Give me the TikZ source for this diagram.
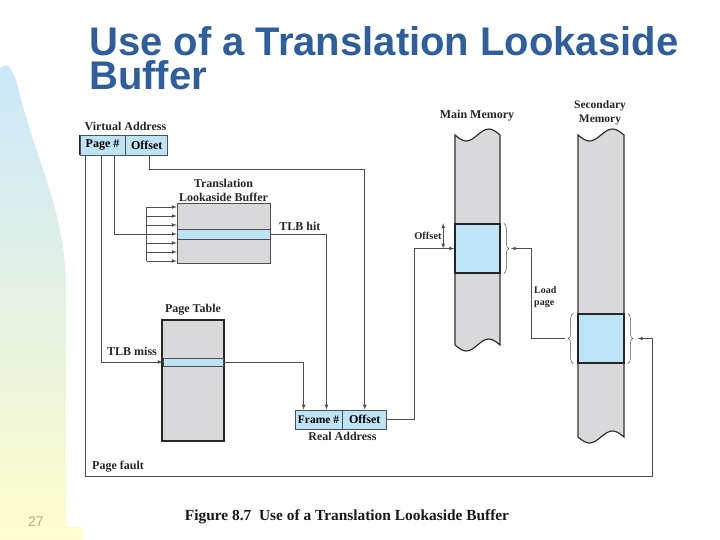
\documentclass[tikz,border=0pt]{standalone}
\usepackage{fontspec}
\setmainfont{Liberation Serif}
\newfontfamily\titlefont{Liberation Sans}
\usetikzlibrary{arrows, shapes, positioning, calc, decorations.pathreplacing}

\definecolor{cellblue}{HTML}{BEE3F6}
\definecolor{memgray}{HTML}{D9D9DB}
\definecolor{linegray}{HTML}{4E4E4E}
\definecolor{titleblue}{HTML}{2E5F9C}
\definecolor{bgblue}{HTML}{C9E7FA}
\definecolor{bgyellow}{HTML}{FFFDCB}
\definecolor{numgray}{HTML}{B3AE7C}

\begin{document}
\begin{tikzpicture}[x=1pt, y=-1pt,
    >=latex,   % Pfeilspitzen
    font=\bfseries\fontsize{12}{14}\selectfont,
    titletext/.style={inner sep=0pt, text=titleblue, align=left, font=\titlefont\bfseries\fontsize{40}{34}\selectfont},
    field/.style={draw=linegray, fill=cellblue, line width=0.8pt, inner sep=0pt, minimum height=20pt},
    tablebox/.style={draw=#1, fill=memgray, inner sep=0pt},
    entry/.style={fill=cellblue, draw=linegray, line width=0.5pt, inner sep=0pt},
    pageframe/.style={draw=black!85, fill=cellblue, line width=1.6pt, inner sep=0pt, minimum width=45pt, minimum height=49pt},
    wire/.style={draw=linegray, line width=0.7pt},
    curly/.style={draw=linegray, line width=0.5pt, decorate, decoration={brace, amplitude=5pt}},
    txt/.style={inner sep=1pt, text=black!85}]
  \useasboundingbox (0,0) rectangle (720,540);
  % Hintergrund links
  \shade[top color=bgblue, bottom color=bgyellow] (0,68) .. controls (8,60) and (14,70) .. (20,95)
    .. controls (33,150) and (64,210) .. (66,280) -- (66,527) -- (82,527) -- (82,540) -- (0,540) -- cycle;
  \node[font=\titlefont\fontsize{14}{14}\selectfont, text=numgray] (pageno) at (36,522) {27};
  % Titel
  \node[titletext, anchor=north west] (title) at (89,26) {Use of a Translation Lookaside\\Buffer};

  % Speicher-Saeulen
  \foreach \cx/\cw/\cb in {455/45/345, 578/46/437}
    \draw[fill=memgray, draw=black!80, line width=1.2pt] (\cx,135) -- (\cx,\cb)
      sin ++(\cw/4,6) cos ++(\cw/4,-6) sin ++(\cw/4,-6) cos ++(\cw/4,6) -- (\cx+\cw,135)
      sin ++(-\cw/4,-6) cos ++(-\cw/4,6) sin ++(-\cw/4,6) cos ++(-\cw/4,-6) -- cycle;
  \node[txt] (mainname) at (477,116) {Main Memory};
  \node[txt, align=center, font=\bfseries\fontsize{11.5}{14}\selectfont] (secname) at (600,113) {Secondary\\Memory};
  \node[pageframe] (mframe) at (477.5,248.5) {};
  \node[pageframe, minimum width=46pt] (spage) at (601,338.5) {};

  % virtuelle Adresse
  \node[field, minimum width=45pt] (vpage) at (102.5,145) {Page \#};
  \node[field, minimum width=42pt, anchor=west] (voffset) at (vpage.east) {Offset};
  \draw[black!85, line width=1.6pt] (vpage.north west) -- (vpage.south west);
  \node[txt, above=3pt of vpage.north east] (vname) {Virtual Address};

  % TLB
  \node[tablebox=linegray, line width=0.8pt, minimum width=93pt, minimum height=60pt] (tlb) at (223.5,233) {};
  \node[entry, minimum width=93pt, minimum height=10pt] (tlbrow) at (223.5,234) {};
  \node[txt, align=center, above=0pt of tlb] (tlbname) {Translation\\Lookaside Buffer};
  \node[txt, anchor=west] (hit) at ($(tlbrow.east)+(8,-8)$) {TLB hit};

  % Seitentabelle
  \node[tablebox=black!85, line width=1.8pt, minimum width=62pt, minimum height=121pt] (ptable) at (193,380.5) {};
  \node[entry, minimum width=60pt, minimum height=8pt] (ptrow) at (193,362) {};
  \node[txt, above=3pt of ptable] (ptname) {Page Table};
  \node[txt] (miss) at (132,351) {TLB miss};

  % reale Adresse
  \node[field, minimum width=47pt, minimum height=19pt, font=\bfseries\fontsize{11.5}{14}\selectfont] (rframe) at (318.5,419.5) {Frame \#};
  \node[field, minimum width=44pt, minimum height=19pt, anchor=west] (roffset) at (rframe.east) {Offset};
  \node[txt, below=2pt of rframe.south east] (rname) {Real Address};

  % Klammern
  \draw[curly] ($(mframe.north east)+(3,0)$) -- ($(mframe.south east)+(3,0)$);
  \draw[curly] ($(spage.south west)+(-4,0)$) -- ($(spage.north west)+(-4,0)$);
  \draw[curly] ($(spage.north east)+(3,0)$) -- ($(spage.south east)+(3,0)$);
  \coordinate (mtip) at ($(mframe.east)+(10,0)$);
  \coordinate (sltip) at ($(spage.west)+(-12,0)$);
  \coordinate (srtip) at ($(spage.east)+(13,0)$);

  % Verbindungen
  \draw[wire, ->] ($(vpage.south west)+(6,0)$) -- ++(0,321) -| ($(srtip)+(15,0)$) -- (srtip);
  \node[txt, anchor=west] (fault) at (91,467) {Page fault};
  \draw[wire, ->] ($(vpage.south west)+(22,0)$) |- (ptrow.west);
  \draw[wire, ->] ($(vpage.south west)+(35,0)$) |- (tlbrow.west);
  \draw[wire] ($(tlbrow.west)+(-30,-27)$) -- ($(tlbrow.west)+(-30,27)$);
  \foreach \i in {-3,-2,-1,1,2,3}
    \draw[wire, ->] ($(tlbrow.west)+(-30,\i*9)$) -- ($(tlbrow.west)+(0,\i*9)$);
  \draw[wire, ->] ($(voffset.south)+(3,0)$) -- ++(0,14) -| (roffset.north);
  \draw[wire, ->] (tlbrow.east) -| ($(rframe.north east)+(-16,0)$);
  \draw[wire, ->] (ptrow.east) -| ($(rframe.north west)+(9,0)$);
  \draw[wire, ->] (roffset.east) -- ++(27,0) |- (mframe.west);
  \draw[wire, <->] ($(mframe.north west)+(-11,0)$) -- ($(mframe.west)+(-11,0)$);
  \node[txt, font=\bfseries\fontsize{10.5}{12}\selectfont] (offname) at (428,236) {Offset};
  \draw[wire, ->] (sltip) -| ($(mtip)+(21,0)$) -- (mtip);
  \node[txt, anchor=west, align=left, font=\bfseries\fontsize{10}{12}\selectfont] (loadname) at (533,297) {Load\\page};

  % Bildunterschrift
  \node[font=\bfseries\fontsize{15.4}{18}\selectfont, text=black!90] (caption) at (347,517) {Figure 8.7\enspace Use of a Translation Lookaside Buffer};
\end{tikzpicture}
\end{document}
